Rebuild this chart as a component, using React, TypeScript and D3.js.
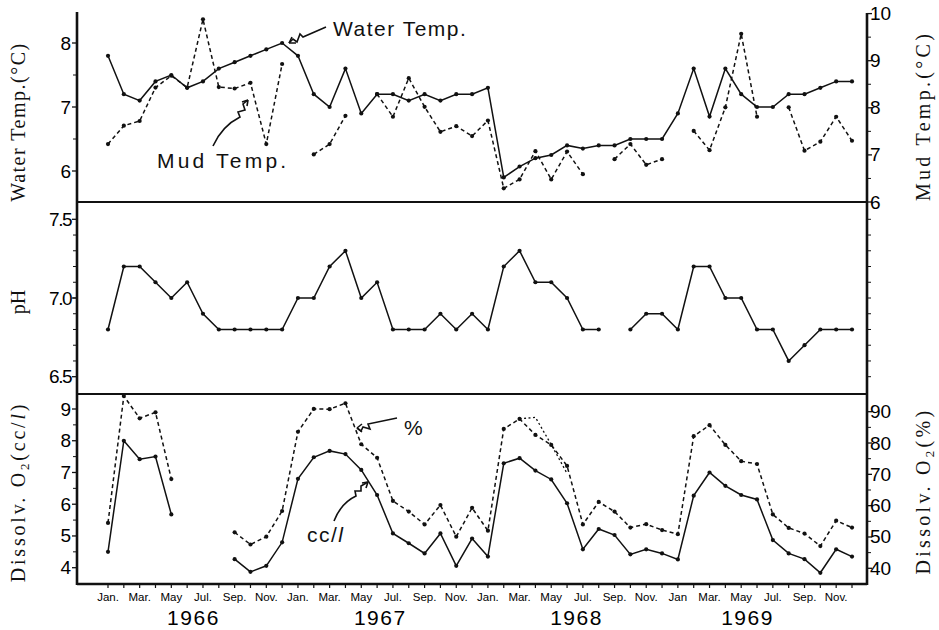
import * as d3 from "d3";

// monthly, Jan 1966 .. Dec 1969
const waterTemp = [7.8, 7.2, 7.1, 7.4, 7.5, 7.3, 7.4, 7.6, 7.7, 7.8, 7.9, 8.0,
  7.8, 7.2, 7.0, 7.6, 6.9, 7.2, 7.2, 7.1, 7.2, 7.1, 7.2, 7.2,
  7.3, 5.9, 6.07, 6.2, 6.25, 6.4, 6.35, 6.4, 6.4, 6.5, 6.5, 6.5,
  6.9, 7.6, 6.85, 7.6, 7.2, 7.0, 7.0, 7.2, 7.2, 7.3, 7.4, 7.4];
const mudTemp = [7.23, 7.62, 7.72, 8.43, 8.68, 8.43, 9.88, 8.44, 8.41, 8.53, 7.23, 8.93,
  null, 7.01, 7.23, 7.83, null, 8.29, 7.81, 8.63, 8.02, 7.49, 7.61, 7.4,
  7.73, 6.29, 6.48, 7.08, 6.48, 7.07, 6.59, null, 6.91, 7.23, 6.79, 6.91,
  null, 7.51, 7.1, 8.01, 9.57, 7.81, null, 8.01, 7.09, 7.28, 7.81, 7.3];
const pH = [6.8, 7.2, 7.2, 7.1, 7.0, 7.1, 6.9, 6.8, 6.8, 6.8, 6.8, 6.8,
  7.0, 7.0, 7.2, 7.3, 7.0, 7.1, 6.8, 6.8, 6.8, 6.9, 6.8, 6.9,
  6.8, 7.2, 7.3, 7.1, 7.1, 7.0, 6.8, 6.8, null, 6.8, 6.9, 6.9,
  6.8, 7.2, 7.2, 7.0, 7.0, 6.8, 6.8, 6.6, 6.7, 6.8, 6.8, 6.8];
const o2cc = [4.5, 8.0, 7.42, 7.5, 5.68, null, null, null, 4.27, 3.87, 4.06, 4.8,
  6.8, 7.48, 7.68, 7.58, 7.08, 6.29, 5.08, 4.77, 4.45, 5.08, 4.06, 4.92,
  4.35, 7.29, 7.45, 7.06, 6.78, 6.03, 4.58, 5.22, 5.03, 4.42, 4.58, 4.45,
  4.26, 6.27, 7.0, 6.58, 6.29, 6.15, 4.87, 4.45, 4.27, 3.84, 4.58, 4.35];
const o2pct = [54.5, 95.0, 87.9, 89.8, 68.5, null, null, null, 51.5, 47.6, 50.1, 58.3,
  83.6, 90.9, 90.8, 92.7, 79.6, 75.3, 61.5, 58.1, 54.0, 60.2, 50.1, 59.3,
  52.0, 84.5, 87.7, 82.6, 79.4, 72.7, 54.0, 61.2, 58.1, 53.0, 54.1, 52.2,
  50.9, 82.2, 85.7, 79.4, 74.2, 73.3, 57.2, 52.9, 51.1, 47.1, 55.2, 53.0];
// second faint dotted trace in spring 1968
const o2pctAlt: (number | null)[] = Array(48).fill(null);
[87.7, 88.2, 79.5, 70.3].forEach((v, k) => (o2pctAlt[26 + k] = v));

const monthNames = ["Jan.", "Mar.", "May", "Jul.", "Sep.", "Nov."];
const years = ["1966", "1967", "1968", "1969"];
const yearPos = [5.4, 17.2, 29.6, 40.4];

const waterTicks = [6, 7, 8];
const mudTicks = [6, 7, 8, 9, 10];
const phTicks = ["6.5", "7.0", "7.5"];
const ccTicks = [4, 5, 6, 7, 8, 9];
const pctTicks = [40, 50, 60, 70, 80, 90];

const SANS = "'Liberation Sans', Arial, sans-serif";
const SERIF = "'Liberation Serif', 'DejaVu Serif', serif";

export default function App() {
  const L = 77, R = 867, T1 = 12, B1 = 202, B2 = 394, B3 = 584;
  const x = d3.scaleLinear().domain([0, 47]).range([108, 852]);
  const yW = d3.scaleLinear().domain([6, 8]).range([171, 43]);
  const yM = d3.scaleLinear().domain([6, 10]).range([B1, 13.6]);
  const yP = d3.scaleLinear().domain([6.5, 7.5]).range([376.7, 219.3]);
  const yC = d3.scaleLinear().domain([4, 9]).range([567.7, 409]);
  const yQ = d3.scaleLinear().domain([40, 90]).range([568.3, 411.7]);

  const line = (arr: (number | null)[], y: d3.ScaleLinear<number, number>) =>
    d3.line<number | null>()
      .defined((d) => d != null)
      .x((_, i) => x(i))
      .y((d) => y(d as number))(arr) ?? "";

  const dots = (arr: (number | null)[], y: d3.ScaleLinear<number, number>, r = 2.1) =>
    arr.map((d, i) => d == null ? null : <circle key={i} cx={x(i)} cy={y(d)} r={r} fill="#111" />);

  const series = (arr: (number | null)[], y: d3.ScaleLinear<number, number>, dashed: boolean) => (
    <g>
      <path d={line(arr, y)} fill="none" stroke="#111" strokeWidth={1.5}
        strokeDasharray={dashed ? "4,3" : undefined} />
      {dots(arr, y)}
    </g>
  );

  const leftTicks = (vals: number[], y: d3.ScaleLinear<number, number>, labels?: string[]) =>
    vals.map((v, i) => (
      <g key={i}>
        <line x1={L - 5} x2={L} y1={y(v)} y2={y(v)} stroke="#111" strokeWidth={1.3} />
        <text x={L - 6} y={y(v) + 6.5} textAnchor="end" fontSize={19} fontFamily={SANS}
          letterSpacing={labels ? -1.5 : 0}>{labels ? labels[i] : v}</text>
      </g>
    ));
  const minorL = (vals: number[], y: d3.ScaleLinear<number, number>) =>
    vals.map((v, i) => <line key={i} x1={L - 4} x2={L} y1={y(v)} y2={y(v)} stroke="#111" strokeWidth={1} />);
  const rightTicks = (vals: number[], y: d3.ScaleLinear<number, number>) =>
    vals.map((v, i) => (
      <g key={i}>
        <line x1={R} x2={R + 5} y1={y(v)} y2={y(v)} stroke="#111" strokeWidth={1.3} />
        <text x={R + 3} y={y(v) + 6.5} fontSize={19} fontFamily={SANS}>{v}</text>
      </g>
    ));
  const minorR = (vals: number[], y: d3.ScaleLinear<number, number>) =>
    vals.map((v, i) => <line key={i} x1={R} x2={R + 4} y1={y(v)} y2={y(v)} stroke="#111" strokeWidth={1} />);

  const months = d3.range(48);

  return (
    <svg width={939} height={630} style={{ position: "absolute", left: 0, top: 0, background: "#fff" }}>
      {/* frame */}
      <g stroke="#111" fill="none">
        <line x1={L} x2={L} y1={T1} y2={B3 + 1} strokeWidth={2.6} />
        <line x1={R} x2={R} y1={T1 + 1} y2={B3 + 1} strokeWidth={2.6} />
        <line x1={L} x2={R} y1={B1} y2={B1} strokeWidth={2} />
        <line x1={L} x2={R} y1={B2} y2={B2} strokeWidth={2} />
        <line x1={L} x2={R} y1={B3} y2={B3} strokeWidth={2.6} />
      </g>

      {/* axes ticks */}
      {leftTicks(waterTicks, yW)}
      {minorL([6.5, 7.5], yW)}
      {rightTicks(mudTicks, yM)}
      {minorR([6.5, 7.5, 8.5, 9.5], yM)}
      {leftTicks([6.5, 7.0, 7.5], yP, phTicks)}
      {minorL(d3.range(6.6, 7.45, 0.1), yP)}
      {minorR(d3.range(6.5, 7.55, 0.1), yP)}
      {leftTicks(ccTicks, yC)}
      {minorL([4.5, 5.5, 6.5, 7.5, 8.5], yC)}
      {rightTicks(pctTicks, yQ)}
      {minorR([45, 55, 65, 75, 85], yQ)}

      {/* x axis */}
      {months.map((i) => (
        <line key={i} x1={x(i)} x2={x(i)} y1={B3} y2={B3 + 4} stroke="#111" strokeWidth={1.2} />
      ))}
      {months.filter((i) => i % 2 === 0).map((i) => (
        <text key={i} x={x(i)} y={601} textAnchor="middle" fontSize={11.5} fontFamily={SANS}>
          {i === 36 ? "Jan" : monthNames[(i % 12) / 2]}
        </text>
      ))}
      {years.map((yr, k) => (
        <text key={yr} x={x(yearPos[k])} y={625} textAnchor="middle" fontSize={21} fontFamily={SANS}
          letterSpacing={1.5}>{yr}</text>
      ))}

      {/* axis titles */}
      <g fontFamily={SERIF} fontSize={20} fill="#111">
        <text transform="translate(25,122) rotate(-90)" textAnchor="middle" letterSpacing={1.5}>Water Temp.(°C)</text>
        <text transform="translate(25,302) rotate(-90)" textAnchor="middle">pH</text>
        <text transform="translate(25,492) rotate(-90)" textAnchor="middle" letterSpacing={2.8}>
          Dissolv. O<tspan fontSize={13} dy={4}>2</tspan><tspan dy={-4}>(cc/</tspan><tspan fontStyle="italic">l</tspan>)
        </text>
        <text transform="translate(930,116) rotate(-90)" textAnchor="middle" letterSpacing={3.3}>Mud Temp.(°C)</text>
        <text transform="translate(930,491) rotate(-90)" textAnchor="middle" letterSpacing={3.3}>
          Dissolv. O<tspan fontSize={13} dy={4}>2</tspan><tspan dy={-4}>(%)</tspan>
        </text>
      </g>

      {/* data */}
      {series(mudTemp, yM, true)}
      {series(waterTemp, yW, false)}
      {series(pH, yP, false)}
      <path d={line(o2pctAlt, yQ)} fill="none" stroke="#111" strokeWidth={1.3} strokeDasharray="2,2.5" />
      {series(o2pct, yQ, true)}
      {series(o2cc, yC, false)}

      {/* annotations */}
      <g fill="none" stroke="#111" strokeWidth={1.6}>
        <path d="M326,27 L303,37 L300,34 L297,42 L293,39 L289,43" />
        <path d="M289,43 L292,37 M289,43 L296,43" />
        <path d="M213,146 Q222,126 240,117 L238,112 L245,110 L243,104 L248,100" />
        <path d="M248,100 L242,102 M248,100 L247,106" />
        <path d="M397,418 L368,424 L370,429 L363,427 L361,431 L357,428" />
        <path d="M357,428 L362,424 M357,428 L362,432" />
        <path d="M334,521 Q341,503 356,496 L355,491 L361,491 L361,486 L368,482" />
        <path d="M368,482 L362,483 M368,482 L366,488" />
      </g>
      <g fontFamily={SANS} fontSize={21} fill="#111">
        <text x={333} y={36} letterSpacing={1.5}>Water Temp.</text>
        <text x={157} y={168} letterSpacing={3.2}>Mud Temp.</text>
        <text x={404} y={435}>%</text>
        <text x={307} y={542} letterSpacing={1.5}>cc/<tspan fontStyle="italic">l</tspan></text>
      </g>
    </svg>
  );
}
